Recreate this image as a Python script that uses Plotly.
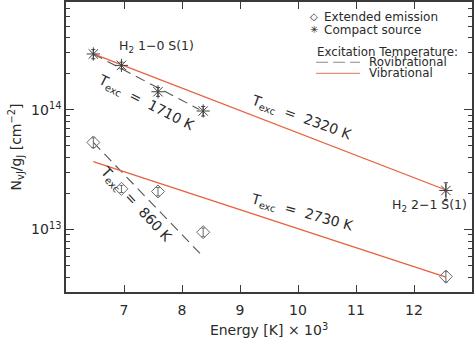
import numpy as np
import plotly.graph_objects as go

# ---- data (energies in units of 10^3 K) ----
energy = [6.471, 6.956, 7.586, 8.365, 12.550]
compact_N = [2.94e14, 2.36e14, 1.42e14, 9.8e13, 2.12e13]
compact_err = [2.6e13, 1.5e13, 1.2e13, 9e12, 3.4e12]
extended_N = [5.35e13, 2.19e13, 2.08e13, 9.5e12, 4.04e12]
extended_err = [5e12, 1.5e12, 1.7e12, 8e11, 4e11]

# excitation-temperature fits: N(E) = N0 * exp(-(E-E0)*1000/T)
fit_names = ["rovib_compact", "rovib_extended", "vib_compact", "vib_extended"]
fit_T = [1710, 860, 2320, 2730]
fit_E0 = [6.471, 6.471, 6.471, 6.471]
fit_N0 = [2.94e14, 5.35e13, 2.94e14, 3.7e13]
fit_Emax = [8.30, 8.36, 12.55, 12.55]
fit_kind = ["Rovibrational", "Rovibrational", "Vibrational", "Vibrational"]

x_ticks = [7, 8, 9, 10, 11, 12]
y_ticks = [1e13, 1e14]
y_ticktext = ["10<sup>13</sup>", "10<sup>14</sup>"]

RED = "#e8603c"
GRAY = "#555555"
AX = "#3a3a3a"
FONT = "DejaVu Sans"

fig = go.Figure()

for i in range(len(fit_T)):
    E = np.array([fit_E0[i], fit_Emax[i]])
    N = fit_N0[i] * np.exp(-(E - fit_E0[i]) * 1000.0 / fit_T[i])
    if fit_kind[i] == "Vibrational":
        line = dict(color=RED, width=1.3)
    else:
        line = dict(color=GRAY, width=1.1, dash="10px,6px")
    fig.add_trace(go.Scatter(x=E, y=N, mode="lines", line=line,
                             showlegend=False, hoverinfo="skip"))

fig.add_trace(go.Scatter(
    x=energy, y=extended_N, mode="markers",
    marker=dict(symbol="diamond-open", size=10, color="#6a6a6a", line=dict(width=1)),
    error_y=dict(type="data", array=extended_err, color="#6a6a6a", thickness=1, width=2),
    showlegend=False))
fig.add_trace(go.Scatter(
    x=energy, y=compact_N, mode="markers",
    marker=dict(symbol="asterisk-open", size=11, color="#404040", line=dict(width=1)),
    error_y=dict(type="data", array=compact_err, color="#404040", thickness=1, width=2),
    showlegend=False))

tcol = "#2a2a2a"
ann = []
def add_text(x, y, text, angle=0, size=14, xref="x", yref="y", xanchor="center"):
    ann.append(dict(x=x, y=y, xref=xref, yref=yref, text=text, textangle=angle,
                    showarrow=False, xanchor=xanchor, yanchor="middle",
                    font=dict(family=FONT, size=size, color=tcol)))

add_text(7.56, 14.53, "H<sub>2</sub> 1−0 S(1)", size=12.5)
add_text(12.27, 13.20, "H<sub>2</sub> 2−1 S(1)", size=12.5)
add_text(7.375, 14.06, "T<sub>exc</sub>  =  1710 K", angle=27, size=14)
add_text(10.055, 13.93, "T<sub>exc</sub>  =  2320 K", angle=20, size=14)
add_text(10.07, 13.14, "T<sub>exc</sub>  =  2730 K", angle=15.5, size=14)
add_text(7.19, 13.21, "T<sub>exc</sub>  =  860 K", angle=47, size=14)

# legend (paper coordinates)
add_text(0.611, 0.950, "◇", size=10, xref="paper", yref="paper")
add_text(0.611, 0.905, "✳", size=10, xref="paper", yref="paper")
add_text(0.630, 0.950, "Extended emission", size=12, xref="paper", yref="paper", xanchor="left")
add_text(0.630, 0.905, "Compact source", size=12, xref="paper", yref="paper", xanchor="left")
add_text(0.613, 0.826, "Excitation Temperature:", size=11.8, xref="paper", yref="paper", xanchor="left")
add_text(0.741, 0.792, "Rovibrational", size=11.8, xref="paper", yref="paper", xanchor="left")
add_text(0.741, 0.754, "Vibrational", size=11.8, xref="paper", yref="paper", xanchor="left")

shapes = [
    dict(type="line", xref="paper", yref="paper", x0=0.616, x1=0.724, y0=0.792, y1=0.792,
         line=dict(color="#8a8a8a", width=1.1, dash="12px,5px")),
    dict(type="line", xref="paper", yref="paper", x0=0.616, x1=0.724, y0=0.754, y1=0.754,
         line=dict(color="#ec8f7a", width=1.3)),
]

minor_vals = [m * 10.0 ** d for d in (12, 13, 14) for m in range(2, 10)
              if 3e12 <= m * 10.0 ** d <= 8e14]

fig.update_layout(
    width=474, height=339,
    margin=dict(l=66, r=2, t=2, b=47, autoexpand=False),
    paper_bgcolor="white", plot_bgcolor="white",
    font=dict(family=FONT, size=14, color=tcol),
    annotations=ann, shapes=shapes,
    xaxis=dict(range=[6, 13], tickvals=x_ticks, ticks="inside", ticklen=7,
               tickcolor=AX, tickwidth=1.2, showline=True, linecolor=AX, linewidth=1.6,
               mirror="ticks", showgrid=False, zeroline=False, automargin=False,
               ticklabelstandoff=4,
               tickfont=dict(family=FONT, size=14, color=tcol),
               title=dict(text="Energy [K] × 10<sup>3</sup>", standoff=9,
                          font=dict(family=FONT, size=14, color=tcol))),
    yaxis=dict(type="log", range=[np.log10(3e12), np.log10(8e14)],
               tickvals=y_ticks, ticktext=y_ticktext, ticks="inside", ticklen=8,
               tickcolor=AX, tickwidth=1.2, showline=True, linecolor=AX, linewidth=1.6,
               mirror="ticks", showgrid=False, zeroline=False, automargin=False,
               minor=dict(tickmode="array", tickvals=minor_vals, ticks="inside",
                          ticklen=4, tickcolor=AX, tickwidth=1, showgrid=False),
               tickfont=dict(family=FONT, size=14, color=tcol),
               title=dict(text="N<sub>vJ</sub>/g<sub>J</sub> [cm<sup>−2</sup>]", standoff=6,
                          font=dict(family=FONT, size=14, color=tcol))),
)

fig.write_html("out.html", config={"displayModeBar": False},
               post_script="document.body.style.margin='0';document.body.style.overflow='hidden';")
